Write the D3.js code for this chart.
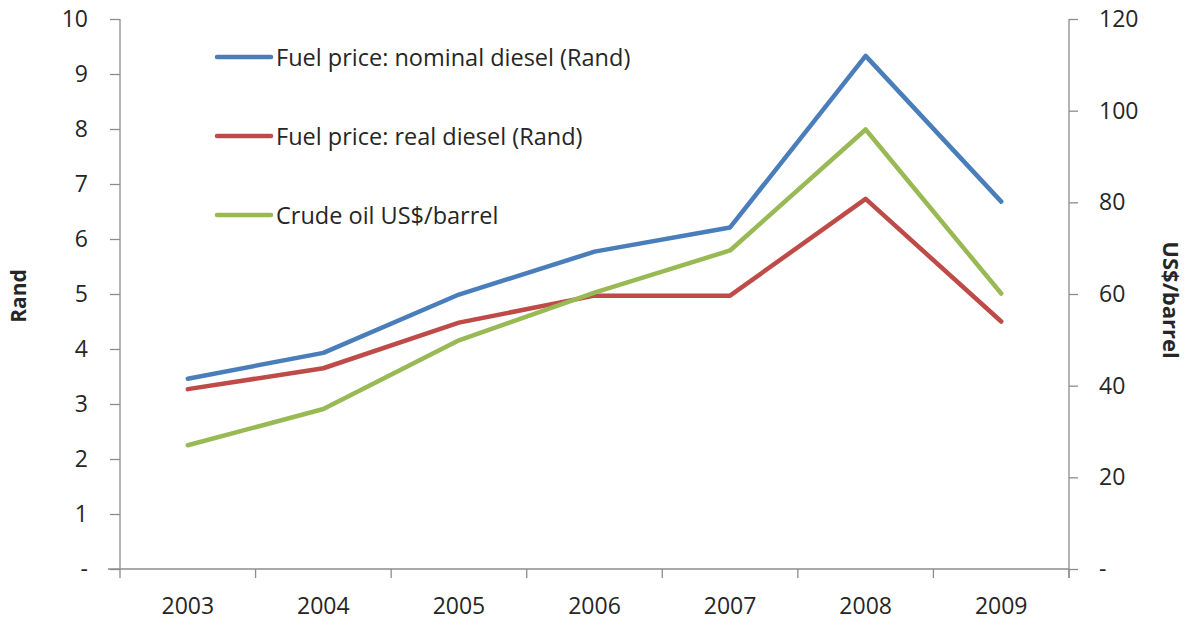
<!DOCTYPE html>
<html>
<head>
<meta charset="utf-8">
<script src="https://cdn.jsdelivr.net/npm/d3@7"></script>
<style>
  body { margin: 0; background: #fff; }
  svg text { font-family: "Open Sans", "Noto Sans", sans-serif; fill: #262626; }
</style>
</head>
<body>
<div id="chart"></div>
<script>
const years = ['2003', '2004', '2005', '2006', '2007', '2008', '2009'];
const nominalDiesel = [3.46, 3.93, 4.99, 5.77, 6.21, 9.33, 6.68];
const realDiesel = [3.27, 3.65, 4.48, 4.97, 4.97, 6.73, 4.50];
const crudeOil = [27.0, 34.9, 49.9, 60.3, 69.5, 95.9, 60.1];
const leftTicks = [0, 1, 2, 3, 4, 5, 6, 7, 8, 9, 10];
const rightTicks = [0, 20, 40, 60, 80, 100, 120];

const width = 1188, height = 625;
const margin = { top: 19, right: 119, bottom: 56, left: 120 };
const W = width - margin.left - margin.right;
const H = height - margin.top - margin.bottom;

const svg = d3.select('#chart').append('svg')
  .attr('width', width).attr('height', height);
const g = svg.append('g').attr('transform', `translate(${margin.left},${margin.top})`);

const x = d3.scaleBand().domain(years).range([0, W]);
const yL = d3.scaleLinear().domain([0, 10]).range([H, 0]);
const yR = d3.scaleLinear().domain([0, 120]).range([H, 0]);
const fmt = d => d === 0 ? '-' : d;

// Axes
const axisColor = '#8c8c8c';
const left = g.append('g')
  .call(d3.axisLeft(yL).tickValues(leftTicks).tickFormat(fmt).tickSize(10).tickPadding(22));
const right = g.append('g').attr('transform', `translate(${W},0)`)
  .call(d3.axisRight(yR).tickValues(rightTicks).tickFormat(fmt).tickSize(9).tickPadding(21));
const bottom = g.append('g').attr('transform', `translate(0,${H})`)
  .call(d3.axisBottom(x).tickSize(0).tickPadding(29));

[left, right, bottom].forEach(a => {
  a.select('.domain').attr('stroke', axisColor).attr('stroke-width', 1.3);
  a.selectAll('.tick line').attr('stroke', axisColor).attr('stroke-width', 1.3);
  a.selectAll('text').attr('font-size', '23px').attr('fill', '#262626');
});
left.select('.domain').attr('d', `M0,0V${H}`);
right.select('.domain').attr('d', `M0,0V${H + 9}`);
bottom.select('.domain').attr('d', `M-12,0H${W}`);

// Category boundary ticks
g.append('g').selectAll('line')
  .data(years.map(d => x(d)).concat([W]))
  .join('line')
  .attr('x1', d => d).attr('x2', d => d)
  .attr('y1', H).attr('y2', H + 9)
  .attr('stroke', axisColor).attr('stroke-width', 1.3);

// Axis titles
g.append('text')
  .attr('transform', `translate(${18 - margin.left},${296 - margin.top}) rotate(-90)`)
  .attr('text-anchor', 'middle').attr('dominant-baseline', 'central')
  .attr('font-size', '21px').attr('font-weight', 'bold').text('Rand');
g.append('text')
  .attr('transform', `translate(${1172 - margin.left},${300 - margin.top}) rotate(90)`)
  .attr('text-anchor', 'middle').attr('dominant-baseline', 'central')
  .attr('font-size', '22px').attr('font-weight', 'bold').text('US$/barrel');

// Lines
const cx = d => x(d) + x.bandwidth() / 2;
const series = [
  { name: 'Fuel price: nominal diesel (Rand)', values: nominalDiesel, y: yL, color: '#4a7ebb' },
  { name: 'Fuel price: real diesel (Rand)', values: realDiesel, y: yL, color: '#be4b48' },
  { name: 'Crude oil US$/barrel', values: crudeOil, y: yR, color: '#98b954' }
];

series.forEach(s => {
  const line = d3.line().x((d, i) => cx(years[i])).y(d => s.y(d));
  g.append('path').datum(s.values)
    .attr('d', line)
    .attr('fill', 'none')
    .attr('stroke', s.color)
    .attr('stroke-width', 4.5)
    .attr('stroke-linejoin', 'round')
    .attr('stroke-linecap', 'round');
});

// Legend
const leg = g.append('g').attr('transform', `translate(${217 - margin.left},${57 - margin.top})`);
series.forEach((s, i) => {
  leg.append('line')
    .attr('x1', 0).attr('x2', 54).attr('y1', i * 79).attr('y2', i * 79)
    .attr('stroke', s.color).attr('stroke-width', 4.5).attr('stroke-linecap', 'round');
  leg.append('text')
    .attr('x', 59).attr('y', i * 79)
    .attr('dominant-baseline', 'central')
    .attr('font-size', '23.5px').text(s.name);
});
</script>
</body>
</html>
